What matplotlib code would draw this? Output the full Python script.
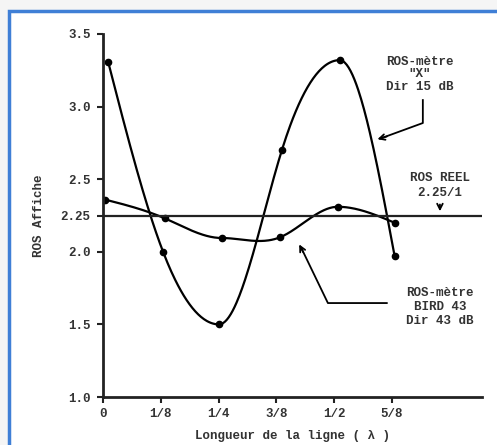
import numpy as np
import matplotlib.pyplot as plt
from matplotlib.patches import Rectangle

# Données
x_metre_x = [0.011, 0.130, 0.251, 0.387, 0.512, 0.631]
y_metre_x = [3.31, 2.00, 1.50, 2.70, 3.32, 1.97]

x_bird = [0.004, 0.134, 0.257, 0.383, 0.508, 0.631]
y_bird = [2.36, 2.23, 2.095, 2.10, 2.31, 2.20]

ros_reel = 2.25

x_ticks = [0, 0.125, 0.25, 0.375, 0.5, 0.625]
x_labels = ['0', '1/8', '1/4', '3/8', '1/2', '5/8']
y_ticks = [1.0, 1.5, 2.0, 2.25, 2.5, 3.0, 3.5]
y_labels = ['1.0', '1.5', '2.0', '2.25', '2.5', '3.0', '3.5']


def lisse(x, y, n=300):
    # spline cubique : pente nulle aux extrema, continuité C2 ailleurs
    x = np.asarray(x, float)
    y = np.asarray(y, float)
    k = len(x)
    h = np.diff(x)
    delta = np.diff(y) / h
    A = np.zeros((k, k))
    b = np.zeros(k)
    A[0, 0], A[0, 1], b[0] = 2, 1, 3 * delta[0]
    A[-1, -2], A[-1, -1], b[-1] = 1, 2, 3 * delta[-1]
    for i in range(1, k - 1):
        if delta[i - 1] * delta[i] <= 0:
            A[i, i] = 1
        else:
            A[i, i - 1] = 1 / h[i - 1]
            A[i, i] = 2 * (1 / h[i - 1] + 1 / h[i])
            A[i, i + 1] = 1 / h[i]
            b[i] = 3 * (delta[i - 1] / h[i - 1] + delta[i] / h[i])
    d = np.linalg.solve(A, b)
    xs = np.linspace(x[0], x[-1], n)
    idx = np.clip(np.searchsorted(x, xs) - 1, 0, k - 2)
    hh = h[idx]
    t = (xs - x[idx]) / hh
    h00 = 2 * t**3 - 3 * t**2 + 1
    h10 = t**3 - 2 * t**2 + t
    h01 = -2 * t**3 + 3 * t**2
    h11 = t**3 - t**2
    ys = h00 * y[idx] + h10 * hh * d[idx] + h01 * y[idx + 1] + h11 * hh * d[idx + 1]
    return xs, ys


mono = 'Liberation Mono'
txt = dict(family=mono, fontweight='bold', color='#333333', fontsize=9)

fig = plt.figure(figsize=(4.97, 4.45), dpi=100, facecolor='#f5f5f5')
# cadre bleu
fig.add_artist(Rectangle((9 / 497, -0.1), 1.2, 1 - 11 / 445 + 0.1, transform=fig.transFigure,
                         facecolor='white', edgecolor='#3f7fd6', linewidth=2.5, zorder=-5))

ax = fig.add_axes([103 / 497, 1 - 397 / 445, (482 - 103) / 497, (397 - 34) / 445])
ax.patch.set_alpha(0)

xs, ys = lisse(x_metre_x, y_metre_x)
ax.plot(xs, ys, color='black', lw=1.6)
ax.plot(x_metre_x, y_metre_x, 'o', color='black', ms=4.5)

xs, ys = lisse(x_bird, y_bird)
ax.plot(xs, ys, color='black', lw=1.6)
ax.plot(x_bird, y_bird, 'o', color='black', ms=4.5)

ax.axhline(ros_reel, color='#222222', lw=1.6)

ax.set_xlim(0, 0.82)
ax.set_ylim(1.0, 3.5)
ax.set_xticks(x_ticks)
ax.set_xticklabels(x_labels, **txt)
ax.set_yticks(y_ticks)
ax.set_yticklabels(y_labels, **txt)
ax.tick_params(axis='both', direction='out', width=1.5, length=4, color='#222222')
ax.tick_params(axis='x', pad=4)
ax.tick_params(axis='y', pad=5)

for s in ['top', 'right']:
    ax.spines[s].set_visible(False)
for s in ['left', 'bottom']:
    ax.spines[s].set_linewidth(2)
    ax.spines[s].set_color('#222222')

ax.set_xlabel('Longueur de la ligne ( λ )', labelpad=7, **txt)
ax.set_ylabel('ROS Affiche', labelpad=11, **txt)

# annotations
ax.text(0.686, 3.224, 'ROS-mètre\n"X"\nDir 15 dB', ha='center', va='center',
        linespacing=1.05, **txt)
ax.plot([0.692, 0.692, 0.60], [3.045, 2.887, 2.78], color='black', lw=1.3)
ax.annotate('', xy=(0.588, 2.77), xytext=(0.62, 2.80),
            arrowprops=dict(arrowstyle='->', lw=1.3, color='black'))

ax.text(0.729, 2.455, 'ROS REEL\n2.25/1', ha='center', va='center',
        linespacing=1.3, **txt)
ax.annotate('', xy=(0.729, 2.26), xytext=(0.729, 2.345),
            arrowprops=dict(arrowstyle='->', lw=1.3, color='black'))

ax.text(0.729, 1.62, 'ROS-mètre\nBIRD 43\nDir 43 dB', ha='center', va='center',
        linespacing=1.22, **txt)
ax.plot([0.614, 0.4866, 0.43], [1.647, 1.647, 2.02], color='black', lw=1.3)
ax.annotate('', xy=(0.4217, 2.068), xytext=(0.436, 1.98),
            arrowprops=dict(arrowstyle='->', lw=1.3, color='black'))

fig.savefig('out.png', dpi=100, facecolor=fig.get_facecolor())
